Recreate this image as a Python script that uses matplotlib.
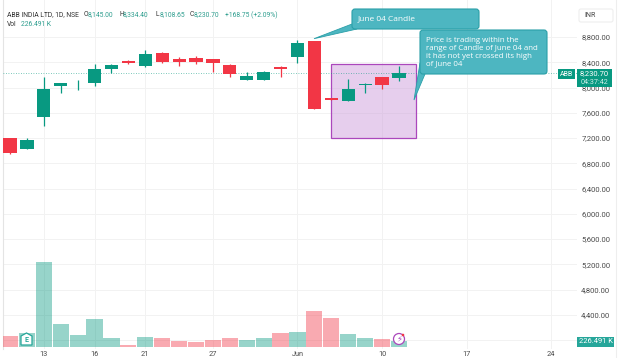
import matplotlib
matplotlib.use("Agg")
import matplotlib.pyplot as plt
from matplotlib.patches import FancyBboxPatch, Polygon, Rectangle, Circle

# candles
opens = [7196, 7027, 7539, 8024, 8082, 8066, 8288, 8420, 8341, 8547, 8446, 8462,
         8446, 8357, 8119, 8124, 8320, 8483, 8737, 7829, 7792, 8040, 8161, 8145]
highs = [7196, 7196, 8172, 8072, 8119, 8367, 8367, 8436, 8594, 8568, 8488, 8499,
         8446, 8372, 8240, 8262, 8346, 8752, 8737, 7829, 8140, 8066, 8161, 8334]
lows = [6948, 7027, 7391, 7908, 7961, 8024, 8225, 8372, 8330, 8393, 8341, 8367,
        8251, 8161, 8119, 8119, 8161, 8383, 7655, 7797, 7792, 7918, 7982, 8108]
closes = [6969, 7169, 7971, 8072, 8093, 8288, 8357, 8393, 8536, 8399, 8409, 8399,
          8383, 8219, 8182, 8251, 8298, 8710, 7655, 7797, 7971, 8061, 8045, 8230]
volumes = [396, 504, 3060, 816, 444, 1008, 312, 60, 372, 312, 216, 168,
           240, 312, 240, 312, 504, 528, 1284, 1032, 468, 324, 276, 226]

price_ticks = [8800, 8400, 8000, 7600, 7200, 6800, 6400, 6000, 5600, 5200, 4800, 4400]
hidden_tick = 4000  # gridline only, its label sits under the volume tag
date_pos = [2, 5, 8, 12, 17, 22, 27, 32]
date_labels = ["13", "16", "21", "27", "Jun", "10", "17", "24"]
ohlc_labels = ["O", "H", "L", "C"]
ohlc_values = ["8,145.00", "8,334.40", "8,108.65", "8,230.70"]

GREEN = "#089981"
RED = "#f23645"
W, H = 618, 358
X0, X1, Y0, Y1 = 3, 577, 0, 349

plt.rcParams["font.family"] = "Roboto"
fig = plt.figure(figsize=(W / 100, H / 100), dpi=100)
rect = [X0 / W, 1 - Y1 / H, (X1 - X0) / W, (Y1 - Y0) / H]
xlim = ((X0 - 10) / 16.91, (X1 - 10) / 16.91)
ylim = (8800 - (Y1 - 37) * 15.83, 8800 + 37 * 15.83)

# bottom axes only holds grid and tick labels
ax = fig.add_axes(rect, zorder=1)
ax.set_xlim(xlim)
ax.set_ylim(ylim)
for s in ax.spines.values():
    s.set_visible(False)
ax.spines["left"].set_visible(True)
ax.spines["left"].set_color("#e4e4e4")
ax.spines["left"].set_linewidth(0.8)
ax.yaxis.tick_right()
ax.set_yticks(price_ticks + [hidden_tick])
ax.set_yticklabels([f"{p:,.2f}" for p in price_ticks] + [""], fontsize=5.5, color="#4a4a4a")
ax.set_xticks(date_pos)
ax.set_xticklabels(date_labels, fontsize=5.3, color="#4a4a4a")
ax.tick_params(axis="both", length=0)
ax.tick_params(axis="y", pad=3)
ax.tick_params(axis="x", pad=1.5)
ax.grid(True, color="#f2f2f2", linewidth=0.7)
ax.set_axisbelow(True)

vol = fig.add_axes(rect, zorder=2)
vol.set_xlim(xlim)
vol.set_ylim(-2 * 36, (Y1 - 2) * 36)
vol.axis("off")
vol_colors = [GREEN if c >= o else RED for o, c in zip(opens, closes)]
vol.bar(range(len(volumes)), volumes, width=0.96, color=vol_colors, alpha=0.42, linewidth=0)

pr = fig.add_axes(rect, zorder=3)
pr.set_xlim(xlim)
pr.set_ylim(ylim)
pr.axis("off")

# date range box sits behind the candles
pr.add_patch(Rectangle((18.98, 7201), 5.03, 1172, facecolor="#ce9fdc", alpha=0.5, linewidth=0, zorder=1))
pr.add_patch(Rectangle((18.98, 7201), 5.03, 1172, facecolor="none", edgecolor="#ab47bc", linewidth=0.9, zorder=2))

pr.axhline(closes[-1], color=GREEN, linewidth=0.6, linestyle=(0, (1, 2)), alpha=0.7, zorder=2)
for i in range(len(opens)):
    col = vol_colors[i]
    pr.vlines(i, lows[i], highs[i], color=col, linewidth=0.9, zorder=3)
    pr.bar(i, abs(closes[i] - opens[i]), bottom=min(opens[i], closes[i]), width=0.78,
           color=col, linewidth=0, zorder=4)

# overlay in pixels for the callouts and labels
ov = fig.add_axes([0, 0, 1, 1], zorder=4)
ov.set_xlim(0, W)
ov.set_ylim(H, 0)
ov.axis("off")


def callout(x, y, w, h, tail):
    ov.add_patch(Polygon(tail, closed=True, facecolor="#4db6c1", edgecolor="#2a9fa8", linewidth=0.6, zorder=6))
    ov.add_patch(FancyBboxPatch((x + 3, y + 3), w - 6, h - 6, boxstyle="round,pad=3,rounding_size=3",
                                facecolor="#4db6c1", edgecolor="#2a9fa8", linewidth=0.8, zorder=6))


callout(352, 9, 127, 20, [(352, 24), (314, 38.7), (357, 29)])
callout(420, 30, 127, 44, [(425, 74), (414, 100), (420, 63)])
ov.text(358, 19, "June 04 Candle", family="Open Sans", color="white", fontsize=6, va="center", zorder=7)
note_lines = ["Price is trading within the", "range of Candle of June 04 and",
              "it has not yet crossed its high", "of June 04"]
for k, line in enumerate(note_lines):
    ov.text(426, 40 + k * 8, line, family="Open Sans", color="white", fontsize=5.7, va="center", zorder=7)

# legend text at the top
ov.text(7, 15, "ABB INDIA LTD, 1D, NSE", fontsize=4.9, color="#333333", va="center")
for xp, lab, val in zip([84, 119, 156, 190], ohlc_labels, ohlc_values):
    ov.text(xp, 15, lab, fontsize=4.9, color="#333333", va="center")
    ov.text(xp + 3.8, 15, val, fontsize=4.9, color="#2f9e8f", va="center")
ov.text(225, 15, "+168.75 (+2.09%)", fontsize=4.9, color="#2f9e8f", va="center")
ov.text(7, 25, "Vol", fontsize=4.9, color="#333333", va="center")
ov.text(21, 25, "226.491 K", fontsize=4.9, color="#2f9e8f", va="center")

# currency box and last price labels
ov.add_patch(FancyBboxPatch((580, 10), 32, 11, boxstyle="round,pad=1,rounding_size=2",
                            facecolor="white", edgecolor="#eeeeee", linewidth=0.8))
ov.text(584, 15.5, "INR", fontsize=5, color="#444444", va="center")
ov.add_patch(Rectangle((558, 69), 17, 10, facecolor=GREEN, linewidth=0, zorder=6))
ov.text(566.5, 74, "ABB", fontsize=5, color="white", ha="center", va="center", zorder=7)
ov.add_patch(Rectangle((577, 69), 35, 18, facecolor=GREEN, linewidth=0, zorder=6))
ov.text(594.5, 73.5, "8,230.70", fontsize=5.5, color="white", ha="center", va="center", zorder=7)
ov.text(594.5, 82, "04:37:42", fontsize=5.2, color="#cfeee8", ha="center", va="center", zorder=7)
ov.add_patch(Rectangle((577, 337), 37, 9.5, facecolor="#26a69a", linewidth=0, zorder=6))
ov.text(595.5, 341.8, "226.491 K", fontsize=5.4, color="white", ha="center", va="center", zorder=7)
ov.plot([616, 616], [0, H], color="#eeeeee", linewidth=0.8)

# earnings and lightning badges
ov.add_patch(Polygon([(21, 345), (21, 336), (26.5, 333), (32, 336), (32, 345)], closed=True,
                     facecolor="white", edgecolor="#26a69a", linewidth=0.9, zorder=7))
ov.text(26.5, 339.5, "E", fontsize=5, color="#26a69a", ha="center", va="center", weight="bold", zorder=8)
ov.add_patch(Circle((399, 339), 5.5, facecolor="white", edgecolor="#ab47bc", linewidth=0.9, zorder=7))
ov.text(399, 339, "⚡", family="DejaVu Sans", fontsize=6, color="#ab47bc", ha="center", va="center", zorder=8)
ov.add_patch(Circle((403, 335), 1.3, facecolor=RED, linewidth=0, zorder=8))

fig.savefig("out.png", dpi=100)
